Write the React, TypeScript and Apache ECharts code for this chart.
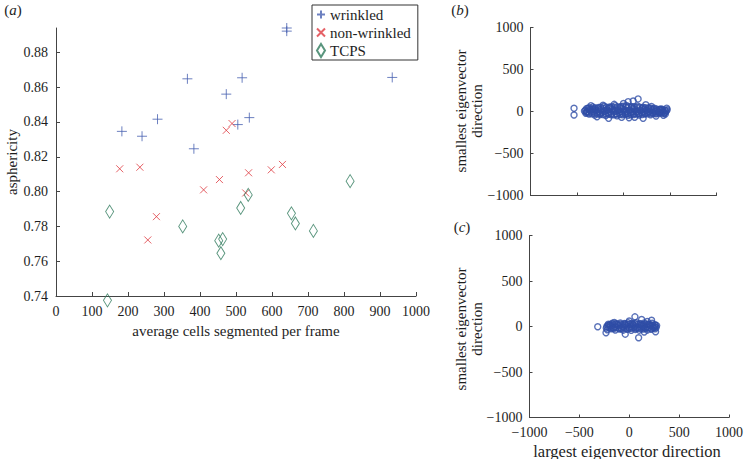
import React, { useEffect, useRef } from "react";
import * as echarts from "echarts";

const FONT = "'Liberation Serif', 'DejaVu Serif', serif";
const TEXT = "#1e1e1e";
const AXIS = "#444";

// Panel (a) ticks
const xTicksA = [0, 100, 200, 300, 400, 500, 600, 700, 800, 900, 1000];
const yTicksA = [0.74, 0.76, 0.78, 0.8, 0.82, 0.84, 0.86, 0.88];
// Panels (b),(c) ticks
const eigTicks = [-1000, -500, 0, 500, 1000];

// Panel (a) data: [average cells segmented per frame, asphericity]
const wrinkled: number[][] = [
  [183, 0.8346], [239, 0.8318], [282, 0.8416], [365, 0.8648], [383, 0.8246],
  [473, 0.856], [505, 0.8385], [517, 0.8654], [537, 0.8425], [641, 0.894],
  [641, 0.8922], [934, 0.8656],
];
const nonWrinkled: number[][] = [
  [177, 0.8131], [233, 0.814], [255, 0.7722], [279, 0.7856], [410, 0.801],
  [454, 0.8069], [473, 0.8352], [489, 0.8391], [527, 0.7992], [535, 0.8108],
  [598, 0.8125], [629, 0.8156],
];
const tcps: number[][] = [
  [143, 0.7375], [149, 0.7885], [352, 0.78], [452, 0.7718], [458, 0.7646],
  [463, 0.7727], [513, 0.7906], [534, 0.7981], [654, 0.7875], [665, 0.7817],
  [715, 0.7774], [817, 0.806],
];

// Panel (b): [largest eigenvector direction, smallest eigenvector direction]
const panelB: number[][] = [
  [-380, 40], [-330, 55], [-270, 48], [-210, 62], [-150, 55], [-90, 70], [-30, 60], [30, 72],
  [90, 58], [150, 66], [210, 50], [270, 45], [330, 38], [400, 30],
  [-410, 15], [-360, 25], [-300, 18], [-240, 28], [-180, 22], [-120, 30], [-60, 20], [0, 28],
  [60, 18], [120, 30], [180, 22], [240, 15], [300, 20], [360, 12], [420, 18], [460, 8],
  [-400, -12], [-345, -5], [-285, -15], [-225, -8], [-165, -18], [-105, -5], [-45, -12], [15, -8],
  [75, -15], [135, -5], [195, -12], [255, -8], [315, -15], [375, -5], [440, -12],
  [-370, -30], [-310, -42], [-250, -35], [-190, -48], [-130, -40], [-70, -52], [-10, -38], [50, -45],
  [110, -35], [170, -42], [230, -30], [290, -38], [350, -28], [410, -22],
  [-395, 0], [-320, 30], [-255, -20], [-200, 5], [-140, 45], [-80, -30], [-20, 40], [40, -25],
  [100, 35], [160, -20], [220, 28], [280, -5], [340, 5], [390, 25], [450, -30], [470, 20],
  [-532, 38], [-532, -42], [-285, -62], [-160, -81], [211, -81], [50, 117], [104, 125], [157, 150],
  [-100, 85], [0, 95], [240, 80], [60, -75], [-220, 75], [350, -55], [430, -45], [465, 40],
  [-350, 70], [-20, -70], [120, -68], [300, 60],
  [-395, 35], [-365, 45], [-335, 30], [-305, 42], [-275, 32], [-245, 50], [-215, 38], [-185, 52],
  [-155, 40], [-125, 58], [-95, 45], [-65, 55], [-35, 48], [-5, 62], [25, 50], [55, 60],
  [85, 45], [115, 55], [145, 48], [175, 52], [205, 40], [235, 45], [265, 32], [295, 38],
  [325, 28], [355, 30], [385, 22], [415, 28], [445, 15],
  [-420, 5], [-390, -5], [-360, 8], [-330, 0], [-300, 10], [-270, 2], [-240, 12], [-210, -2],
  [-180, 8], [-150, 0], [-120, 12], [-90, 2], [-60, 8], [-30, -2], [0, 10], [30, 2],
  [60, 12], [90, 0], [120, 8], [150, -2], [180, 10], [210, 0], [240, 5], [270, -3],
  [300, 8], [330, -2], [360, 3], [390, -8], [420, 2], [455, -5],
  [-405, -22], [-375, -18], [-340, -28], [-310, -20], [-280, -30], [-250, -25], [-220, -35], [-190, -28],
  [-160, -32], [-130, -25], [-100, -38], [-70, -28], [-40, -35], [-10, -25], [20, -32], [50, -28],
  [80, -38], [110, -25], [140, -30], [170, -28], [200, -35], [230, -22], [260, -28], [290, -20],
  [320, -25], [350, -18], [380, -22], [410, -10], [440, -20],
];

// Panel (c)
const panelC: number[][] = [
  [-210, 25], [-170, 35], [-130, 30], [-90, 38], [-50, 32], [-10, 40], [30, 35], [70, 42],
  [110, 30], [150, 38], [190, 28], [230, 35], [260, 20],
  [-225, 0], [-185, 5], [-145, -5], [-105, 8], [-65, -3], [-25, 6], [15, -2], [55, 5],
  [95, -6], [135, 4], [175, -3], [215, 8], [255, -5], [275, 10],
  [-220, -35], [-180, -25], [-140, -38], [-100, -28], [-60, -40], [-20, -30], [20, -42], [60, -32],
  [100, -40], [140, -28], [180, -38], [220, -30], [260, -25],
  [-200, 15], [-160, -15], [-120, 18], [-80, -18], [-40, 20], [0, -20], [40, 18], [80, -15],
  [120, 15], [160, -18], [200, 20], [240, -12],
  [-316, -3], [-233, -69], [-40, -84], [94, -124], [264, -58], [57, 106], [124, 77], [224, 69],
  [0, 60], [180, 55], [150, -60], [-150, 45],
  [-215, 12], [-190, 22], [-165, 18], [-140, 28], [-115, 22], [-90, 25], [-65, 20], [-40, 30],
  [-15, 22], [10, 28], [35, 25], [60, 30], [85, 22], [110, 28], [135, 20], [160, 25],
  [185, 18], [210, 22], [235, 15], [260, 12],
  [-230, -18], [-205, -10], [-180, -15], [-155, -22], [-130, -12], [-105, -18], [-80, -25], [-55, -12],
  [-30, -18], [-5, -10], [20, -20], [45, -12], [70, -22], [95, -18], [120, -25], [145, -12],
  [170, -20], [195, -15], [220, -22], [245, -15], [270, -10],
];

const BLUE = "#4760b0";
const RED = "#de3a40";
const GREEN = "#2f7a5c";
const CIRCLE = "#2f4ea6";

const numFmt = (v: number) => (v < 0 ? "\u2212" + Math.abs(v) : String(v));

function baseAxis(extra: any) {
  return {
    type: "value",
    splitLine: { show: false },
    axisLine: { show: true, onZero: false, lineStyle: { color: AXIS, width: 1 } },
    axisTick: { show: true, inside: true, length: 4, lineStyle: { color: AXIS } },
    ...extra,
  };
}

const tickLabel = { color: TEXT, fontFamily: FONT, fontSize: 14 };

export default function App() {
  const ref = useRef<HTMLDivElement>(null);
  useEffect(() => {
    const chart = echarts.init(ref.current!, null, { renderer: "svg" });
    const labelStyle = { fontFamily: FONT, fontSize: 15, fill: TEXT };
    const panelLabel = (letter: string, x: number, y: number) => ({
      type: "text", x, y,
      style: {
        text: "{n|(}{i|" + letter + "}{n|)}", align: "center", verticalAlign: "middle",
        rich: {
          n: { fontFamily: FONT, fontSize: 15, fill: TEXT },
          i: { fontFamily: FONT, fontSize: 15, fontStyle: "italic", fill: TEXT },
        },
      },
    });
    const option: any = {
      animation: false,
      backgroundColor: "#fff",
      grid: [
        { left: 56, top: 28, width: 360, height: 268 },
        { left: 530.5, top: 27.5, width: 186, height: 168 },
        { left: 529.5, top: 235.5, width: 200.5, height: 182 },
      ],
      xAxis: [
        baseAxis({
          gridIndex: 0, min: 0, max: 1000, interval: 100,
          axisLabel: { ...tickLabel, margin: 8, customValues: xTicksA, formatter: numFmt },
        }),
        baseAxis({
          gridIndex: 1, min: -1000, max: 1000, interval: 500,
          axisTick: { show: true, inside: true, length: 3, lineStyle: { color: AXIS } },
          axisLabel: { show: false },
        }),
        baseAxis({
          gridIndex: 2, min: -1000, max: 1000, interval: 500,
          axisTick: { show: true, inside: true, length: 3, lineStyle: { color: AXIS } },
          axisLabel: { ...tickLabel, margin: 8, customValues: eigTicks, formatter: numFmt },
        }),
      ],
      yAxis: [
        baseAxis({
          gridIndex: 0, min: 0.74, max: 0.894,
          axisTick: { show: true, inside: true, length: 4, lineStyle: { color: AXIS }, customValues: yTicksA },
          axisLabel: {
            ...tickLabel, margin: 8, customValues: yTicksA,
            formatter: (v: number) => v.toFixed(2),
          },
        }),
        baseAxis({
          gridIndex: 1, min: -1000, max: 1000, interval: 500,
          axisTick: { show: true, inside: true, length: 3, lineStyle: { color: AXIS } },
          axisLabel: { ...tickLabel, margin: 7, customValues: eigTicks, formatter: numFmt },
        }),
        baseAxis({
          gridIndex: 2, min: -1000, max: 1000, interval: 500,
          axisTick: { show: true, inside: true, length: 3, lineStyle: { color: AXIS } },
          axisLabel: { ...tickLabel, margin: 7, customValues: eigTicks, formatter: numFmt },
        }),
      ],
      legend: {
        orient: "vertical",
        left: 312,
        top: 5,
        data: ["wrinkled", "non-wrinkled", "TCPS"],
        selectedMode: false,
        borderColor: "#333",
        borderWidth: 1,
        borderRadius: 0,
        padding: [2, 7, 2, 4],
        itemGap: 3,
        itemWidth: 8,
        itemHeight: 13,
        textStyle: { fontFamily: FONT, fontSize: 15, color: TEXT },
      },
      series: [
        {
          name: "wrinkled", type: "scatter", xAxisIndex: 0, yAxisIndex: 0,
          data: wrinkled,
          symbol: "path://M5,0L5,10M0,5L10,5",
          symbolSize: 10,
          symbolKeepAspect: true,
          itemStyle: { color: "transparent", borderColor: BLUE, borderWidth: 1 },
          clip: false,
        },
        {
          name: "non-wrinkled", type: "scatter", xAxisIndex: 0, yAxisIndex: 0,
          data: nonWrinkled,
          symbol: "path://M0,0L10,10M10,0L0,10",
          symbolSize: 7,
          symbolKeepAspect: true,
          itemStyle: { color: "transparent", borderColor: RED, borderWidth: 1 },
          clip: false,
        },
        {
          name: "TCPS", type: "scatter", xAxisIndex: 0, yAxisIndex: 0,
          data: tcps,
          symbol: "diamond",
          symbolSize: [8, 13],
          itemStyle: { color: "transparent", borderColor: GREEN, borderWidth: 1 },
          clip: false,
        },
        {
          name: "b", type: "scatter", xAxisIndex: 1, yAxisIndex: 1,
          data: panelB,
          symbol: "circle",
          symbolSize: 6,
          itemStyle: { color: "transparent", borderColor: CIRCLE, borderWidth: 1.4 },
        },
        {
          name: "c", type: "scatter", xAxisIndex: 2, yAxisIndex: 2,
          data: panelC,
          symbol: "circle",
          symbolSize: 6,
          itemStyle: { color: "transparent", borderColor: CIRCLE, borderWidth: 1.4 },
        },
      ],
      graphic: [
        panelLabel("a", 13, 10),
        {
          type: "text", x: 12, y: 162, rotation: Math.PI / 2,
          style: { ...labelStyle, text: "asphericity", align: "center", verticalAlign: "middle" },
        },
        {
          type: "text", x: 236, y: 331,
          style: { ...labelStyle, text: "average cells segmented per frame", align: "center", verticalAlign: "middle" },
        },
        panelLabel("b", 460, 10),
        {
          type: "text", x: 469, y: 111, rotation: Math.PI / 2,
          style: { ...labelStyle, text: "smallest eigenvector\ndirection", lineHeight: 16, align: "center", verticalAlign: "middle" },
        },
        panelLabel("c", 462, 227),
        {
          type: "text", x: 469, y: 329, rotation: Math.PI / 2,
          style: { ...labelStyle, text: "smallest eigenvector\ndirection", lineHeight: 16, align: "center", verticalAlign: "middle" },
        },
        {
          type: "text", x: 627, y: 451,
          style: { ...labelStyle, fontSize: 16.5, text: "largest eigenvector direction", align: "center", verticalAlign: "middle" },
        },
      ],
    };
    chart.setOption(option);
    return () => chart.dispose();
  }, []);
  return (
    <div
      ref={ref}
      style={{ position: "absolute", left: 0, top: 0, width: 746, height: 459, background: "#fff" }}
    />
  );
}
